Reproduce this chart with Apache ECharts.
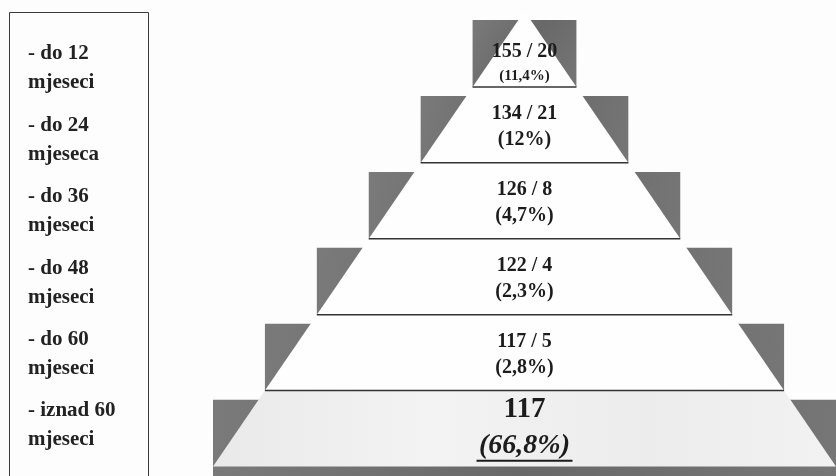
<!DOCTYPE html>
<html>
<head>
<meta charset="utf-8">
<script src="https://cdn.jsdelivr.net/npm/echarts@6/dist/echarts.min.js"></script>
<style>html,body{margin:0;padding:0;background:#fdfdfd;}#chart{width:836px;height:476px;}</style>
</head>
<body>
<div id="chart"></div>
<script>
// Data, listed top of the pyramid first
const groupLine1 = ['- do 12', '- do 24', '- do 36', '- do 48', '- do 60', '- iznad 60'];
const groupLine2 = ['mjeseci', 'mjeseca', 'mjeseci', 'mjeseci', 'mjeseci', 'mjeseci'];
const totals = [155, 134, 126, 122, 117, 117];
const subCounts = [20, 21, 8, 4, 5, null];
const shares = [11.4, 12, 4.7, 2.3, 2.8, 66.8];

const N = totals.length;
const FONT = '"Liberation Serif", "Times New Roman", serif';
const HALF = 312;           // half width of the pyramid base in x-axis units
const hw = v => HALF * (1 - v / N);
const fmtPct = p => '(' + String(p).replace('.', ',') + '%)';
const fmtCount = i => subCounts[i] == null ? String(totals[i]) : totals[i] + ' / ' + subCounts[i];

const chart = echarts.init(document.getElementById('chart'), null, {renderer: 'canvas'});

const graphicEls = [{
  type: 'rect', left: 9, top: 12, z: 10,
  shape: {width: 139, height: 480},
  style: {fill: 'transparent', stroke: '#3a3a3a', lineWidth: 1}
}];
groupLine1.forEach((t, i) => {
  const top = 54 + i * 71.4;
  graphicEls.push({type: 'text', x: 28, y: top, z: 11,
    style: {text: t, fill: '#222', font: 'bold 21px ' + FONT, verticalAlign: 'middle', align: 'left'}});
  graphicEls.push({type: 'text', x: 28, y: top + 29, z: 11,
    style: {text: groupLine2[i], fill: '#222', font: 'bold 21px ' + FONT, verticalAlign: 'middle', align: 'left'}});
});

function renderItem(params, api) {
  const i = api.value(0);
  const k = N - 1 - i;            // level from the bottom
  const children = [];
  const blockTop = k + 0.88;
  const blockBottom = k === 0 ? -0.14 : k;
  const a = api.coord([-hw(k), blockTop]);
  const b = api.coord([hw(k), blockBottom]);
  children.push({type: 'rect', shape: {x: a[0], y: a[1], width: b[0] - a[0], height: b[1] - a[1]},
    style: {fill: new echarts.graphic.LinearGradient(0, 0, 1, 1, [
      {offset: 0, color: '#7a7a7a'}, {offset: 0.5, color: '#686868'}, {offset: 1, color: '#767676'}])}});
  const pts = [api.coord([-hw(k), k]), api.coord([hw(k), k]), api.coord([hw(k + 1), k + 1]), api.coord([-hw(k + 1), k + 1])];
  children.push({type: 'polygon', shape: {points: pts},
    style: {fill: k === 0 ? new echarts.graphic.LinearGradient(0, 0, 1, 0, [
      {offset: 0, color: '#e9e9e9'}, {offset: 0.35, color: '#f3f3f3'}, {offset: 0.7, color: '#ececec'}, {offset: 1, color: '#f2f2f2'}]) : '#fefefe'}});
  if (k < N - 1) {
    const l = api.coord([-hw(k + 1), k + 1]);
    const r = api.coord([hw(k + 1), k + 1]);
    children.push({type: 'line', shape: {x1: l[0], y1: l[1], x2: r[0], y2: r[1]}, style: {stroke: '#333', lineWidth: 1.5}});
  }
  let anchor = k + 0.47, off = 13, f1 = 'bold 20px ', f2 = 'bold 20px ';
  if (k === N - 1) { anchor = k + 0.3; off = 12; f2 = 'bold 15px '; }
  if (k === 0) { anchor = k + 0.51; off = 18; f1 = 'bold 29px '; f2 = 'italic bold 28px '; }
  const c = api.coord([0, anchor]);
  children.push({type: 'text', x: c[0], y: c[1] - off,
    style: {text: fmtCount(i), fill: '#1c1c1c', font: f1 + FONT, align: 'center', verticalAlign: 'middle'}});
  children.push({type: 'text', x: c[0], y: c[1] + off,
    style: {text: fmtPct(shares[i]), fill: '#1c1c1c', font: f2 + FONT, align: 'center', verticalAlign: 'middle'}});
  if (k === 0) {
    children.push({type: 'line', shape: {x1: c[0] - 48, y1: c[1] + off + 15, x2: c[0] + 48, y2: c[1] + off + 15},
      style: {stroke: '#1c1c1c', lineWidth: 2}});
  }
  return {type: 'group', children: children};
}

chart.setOption({
  backgroundColor: '#fdfdfd',
  animation: false,
  graphic: graphicEls,
  grid: {left: 213, right: -1, top: 11, bottom: 0},
  xAxis: {type: 'value', min: -HALF, max: HALF, show: false},
  yAxis: {type: 'value', min: -0.125, max: N, show: false},
  series: [{
    type: 'custom',
    renderItem: renderItem,
    clip: false,
    data: totals.map((t, i) => [i, t])
  }]
});
</script>
</body>
</html>
